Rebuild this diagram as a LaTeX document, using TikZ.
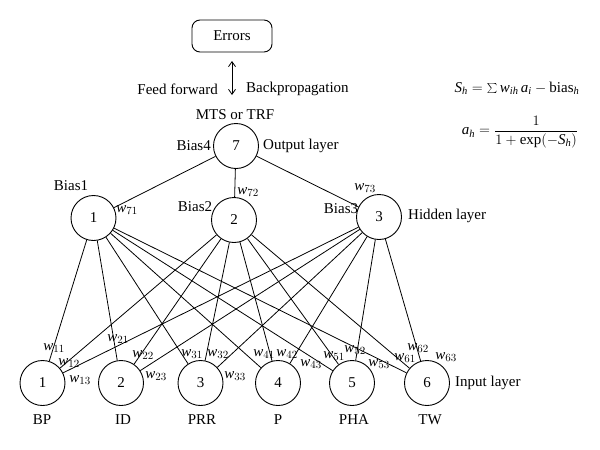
\documentclass[tikz,border=0pt]{standalone}
\usepackage{fontspec}
\setmainfont{Liberation Serif}
\usetikzlibrary{arrows.meta}
\newcommand{\wt}[1]{$\mathit{w}_{#1}$}
\begin{document}
\begin{tikzpicture}[x=1pt,y=-1pt,
  font=\fontsize{15}{17}\selectfont,
  neuron/.style={draw, circle, minimum size=45pt, inner sep=0pt, line width=0.9pt},
  link/.style={line width=0.8pt},
  wl/.style={inner sep=0pt, font=\fontsize{15}{17}\selectfont},
  txt/.style={inner sep=0pt}]
\useasboundingbox (0,0) rectangle (600,450);

% Errors box and arrow
\node[draw, rounded corners=8pt, minimum width=80pt, minimum height=32pt, line width=0.9pt] (err) at (232,36) {Errors};
\coordinate (arrTop) at (232,61);
\coordinate (arrBot) at (232,95);
\draw[line width=0.8pt, {Straight Barb[length=5pt,width=7pt]}-{Straight Barb[length=5pt,width=7pt]}] (arrTop) -- (arrBot);
\node[txt, anchor=east] (ff) at (218,89) {Feed forward};
\node[txt, anchor=west] (bp) at (246,89) {Backpropagation};
\node[txt] (mts) at (235,115) {MTS or TRF};

% Output node
\node[neuron] (o7) at (236,146) {7};
\node[txt, anchor=east] (b4) at (211,146) {Bias4};
\node[txt, anchor=west] (ol) at (263,146) {Output layer};

% Hidden nodes
\node[neuron] (h1) at (93.5,218) {1};
\node[neuron] (h2) at (234,220) {2};
\node[neuron] (h3) at (379,217) {3};
\node[txt] (b1) at (71,186) {Bias1};
\node[txt] (b2) at (195,207) {Bias2};
\node[txt] (b3) at (341,209) {Bias3};
\node[txt, anchor=west] (hl) at (408,216) {Hidden layer};

% Input nodes
\node[neuron] (i1) at (42.5,383) {1};
\node[neuron] (i2) at (121,383) {2};
\node[neuron] (i3) at (200.5,383) {3};
\node[neuron] (i4) at (278,383) {4};
\node[neuron] (i5) at (352,383) {5};
\node[neuron] (i6) at (427,383) {6};
\node[txt, anchor=west] (il) at (455,383) {Input layer};

\node[txt] (n1) at (42,420) {BP};
\node[txt] (n2) at (123,420) {ID};
\node[txt] (n3) at (202,420) {PRR};
\node[txt] (n4) at (278,420) {P};
\node[txt] (n5) at (354,420) {PHA};
\node[txt] (n6) at (430,420) {TW};

% Links
\foreach \h in {1,2,3} {
  \draw[link] (o7) -- (h\h);
  \foreach \i in {1,...,6} {
    \draw[link] (h\h) -- (i\i);
  }
}

% Hidden weights
\node[wl] (w71) at (127,210) {\wt{71}};
\node[wl] (w72) at (248,192) {\wt{72}};
\node[wl] (w73) at (365,188) {\wt{73}};

% Input weights
\node[wl] (w11) at (54,348) {\wt{11}};
\node[wl] (w12) at (69,363) {\wt{12}};
\node[wl] (w13) at (80,380) {\wt{13}};
\node[wl] (w21) at (118,339) {\wt{21}};
\node[wl] (w22) at (143,355) {\wt{22}};
\node[wl] (w23) at (156,376) {\wt{23}};
\node[wl] (w31) at (192,354) {\wt{31}};
\node[wl] (w32) at (218,354) {\wt{32}};
\node[wl] (w33) at (235,376) {\wt{33}};
\node[wl] (w41) at (264,354) {\wt{41}};
\node[wl] (w42) at (287,354) {\wt{42}};
\node[wl] (w43) at (311,364) {\wt{43}};
\node[wl] (w51) at (334,356) {\wt{51}};
\node[wl] (w52) at (355,350) {\wt{52}};
\node[wl] (w53) at (379,364) {\wt{53}};
\node[wl] (w61) at (405,358) {\wt{61}};
\node[wl] (w62) at (418,348) {\wt{62}};
\node[wl] (w63) at (446,357) {\wt{63}};

% Formulas
\node[txt] (f1) at (517,88) {$\mathit{S}_{\mathit{h}} = \sum \mathit{w}_{\mathit{ih}}\, \mathit{a}_{\mathit{i}} - \mathrm{bias}_{\mathit{h}}$};
\node[txt] (f2) at (520,132) {$\displaystyle \mathit{a}_{\mathit{h}} = \frac{1}{1+\exp(-\mathit{S}_{\mathit{h}})}$};
\end{tikzpicture}
\end{document}
